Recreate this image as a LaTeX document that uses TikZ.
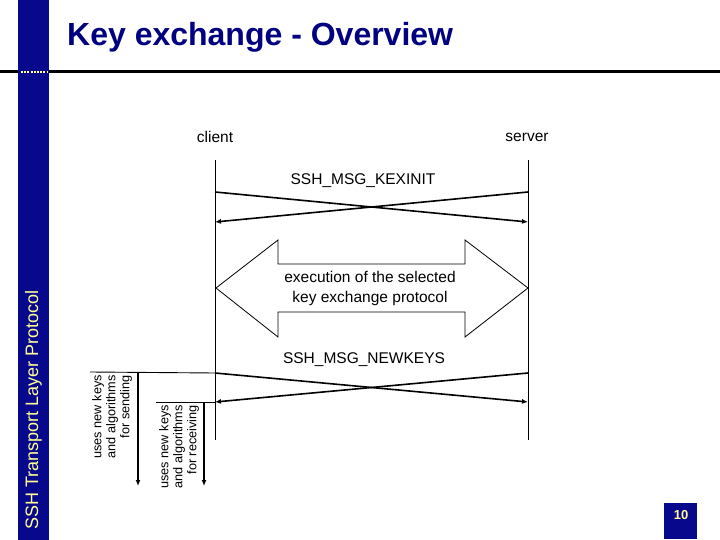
\documentclass[tikz,border=0pt]{standalone}
\usepackage{fontspec}
\setmainfont{Liberation Sans}
\usetikzlibrary{arrows.meta}
\definecolor{barblue}{RGB}{8,8,140}
\definecolor{titleblue}{RGB}{0,0,128}
\definecolor{paleyellow}{RGB}{255,255,150}
\tikzset{
  lbl/.style={font=\fontsize{15.5}{20}\selectfont, inner sep=0pt},
  msg/.style={line width=1.6pt, -{Latex[length=6pt,width=5pt]}},
  life/.style={line width=0.9pt},
  usearrow/.style={line width=1.6pt, -{Latex[length=6pt,width=5pt]}},
  usetext/.style={font=\fontsize{12.7}{14}\selectfont, inner sep=0pt, rotate=90, align=right, anchor=north east},
}
\begin{document}
\begin{tikzpicture}[x=1pt,y=-1pt]
\useasboundingbox (0,0) rectangle (720,540);
% header
\draw[line width=3pt] (0,72) -- (720,72);
\fill[barblue] (18,0) rectangle (49,540);
\draw[paleyellow, line width=2.5pt, dash pattern=on 2pt off 1.2pt] (21,72) -- (47,72);
\node[anchor=west, inner sep=0pt, text=titleblue, font=\fontsize{32}{36}\selectfont\bfseries] (title) at (67,37) {Key exchange - Overview};
\node[rotate=90, inner sep=0pt, text=paleyellow, font=\fontsize{18}{20}\selectfont] (side) at (33.5,410) {SSH Transport Layer Protocol};
\fill[barblue] (664,503) rectangle (697,539);
\node[inner sep=0pt, text=paleyellow, font=\fontsize{13}{15}\selectfont\bfseries] (pnum) at (681,515) {10};
% actors
\node[lbl] (client) at (215,137) {client};
\node[lbl] (server) at (527,137) {server};
\coordinate (ctop) at (215,160);
\coordinate (cbot) at (215,440);
\coordinate (stop) at (528,160);
\coordinate (sbot) at (528,440);
\draw[life] (ctop) -- (cbot);
\draw[life] (stop) -- (sbot);
% KEXINIT
\node[lbl] (kex) at (363,181) {SSH\_MSG\_KEXINIT};
\coordinate (k1) at (215,192);
\coordinate (k2) at (528,222);
\coordinate (k3) at (528,192);
\coordinate (k4) at (215,222);
\draw[msg] (k1) -- (k2);
\draw[msg] (k3) -- (k4);
% double arrow
\draw[line width=0.8pt, fill=white] (216,288) -- (278,240) -- (278,264) -- (465,264) -- (465,240) -- (528,288) -- (465,337) -- (465,312) -- (278,312) -- (278,337) -- cycle;
\node[lbl, align=center] (exec) at (370,288) {execution of the selected\\key exchange protocol};
% NEWKEYS
\node[lbl] (newk) at (364,360) {SSH\_MSG\_NEWKEYS};
\coordinate (n1) at (215,373);
\coordinate (n2) at (528,402);
\coordinate (n3) at (528,373);
\coordinate (n4) at (215,402);
\draw[msg] (n1) -- (n2);
\draw[msg] (n3) -- (n4);
% uses new keys
\coordinate (s0) at (90,372);
\coordinate (s1) at (138,372);
\coordinate (s2) at (138,486);
\draw[line width=0.9pt] (s0) -- (n1);
\draw[usearrow] (s1) -- (s2);
\coordinate (r0) at (156,402);
\coordinate (r1) at (204,402);
\coordinate (r2) at (204,486);
\draw[line width=0.9pt] (r0) -- (n4);
\draw[usearrow] (r1) -- (r2);
\node[usetext] (usend) at (92,375) {uses new keys\\and algorithms\\for sending};
\node[usetext] (urecv) at (159,405) {uses new keys\\and algorithms\\for receiving};
\end{tikzpicture}
\end{document}
